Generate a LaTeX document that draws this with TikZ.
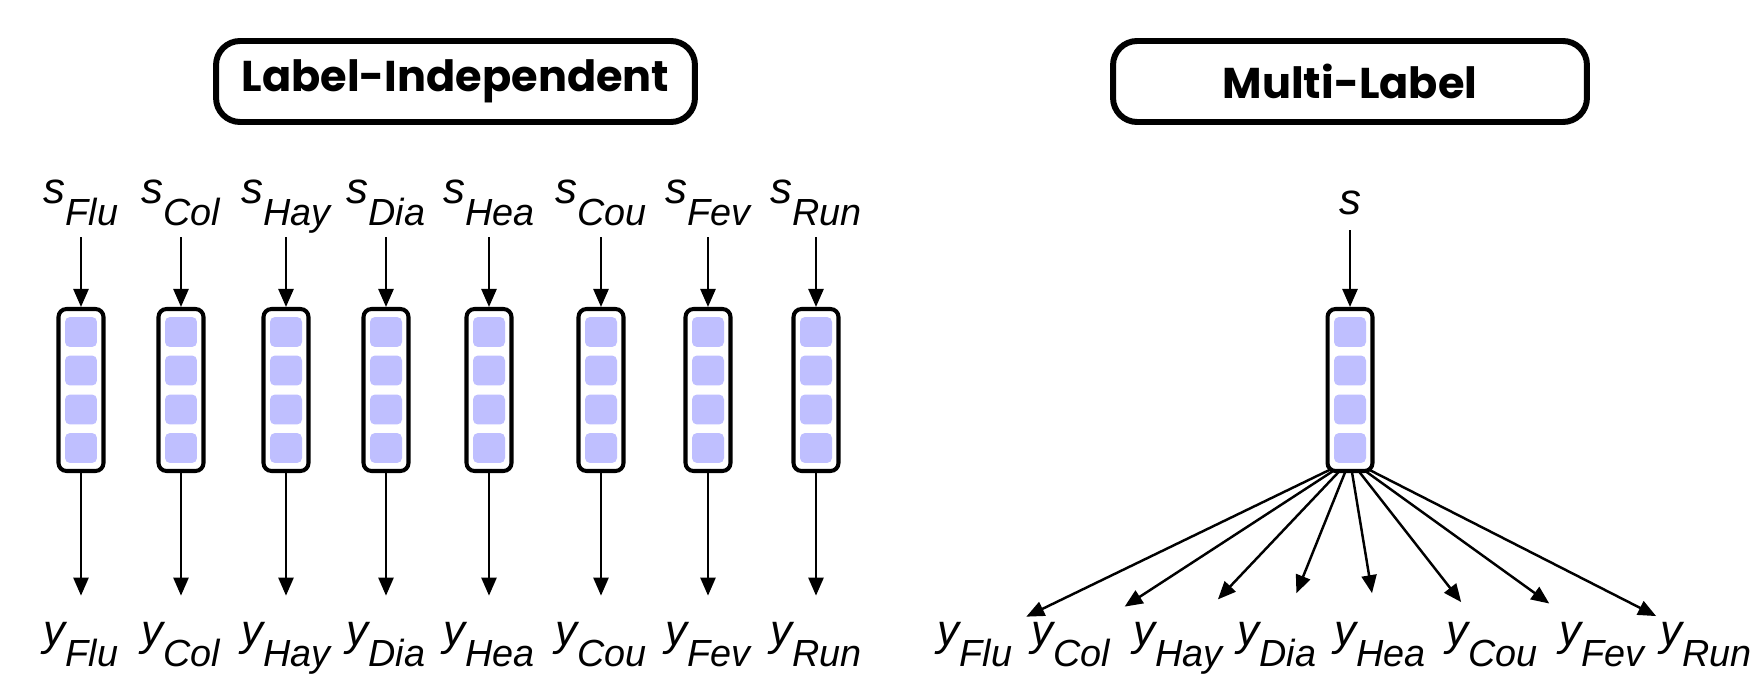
\documentclass[tikz,border=0pt]{standalone}
\usepackage{fontspec}
\setmainfont{Liberation Sans}
\newfontfamily\titlefont{Poppins}
\usetikzlibrary{arrows.meta,backgrounds,positioning}

\definecolor{cellblue}{HTML}{BFBFFF}

% label with a dropped subscript
\newcommand{\sublbl}[2]{\fontsize{25}{30}\selectfont\itshape #1\raisebox{-0.5em}{\fontsize{21.5}{26}\selectfont #2}}

\begin{document}
\begin{tikzpicture}[x=0.02cm,y=-0.02cm,
  >={Triangle[length=0.36cm,width=0.3cm]},
  title/.style={draw,line width=3.4pt,rounded corners=0.48cm,minimum height=1.62cm,
    font=\titlefont\bfseries\fontsize{24.5}{28}\selectfont},
  col/.style={draw,fill=white,line width=2.3pt,rounded corners=0.16cm,
    minimum width=0.9cm,minimum height=3.24cm,inner sep=0},
  cell/.style={fill=cellblue,rounded corners=0.1cm,minimum width=0.64cm,
    minimum height=0.6cm,inner sep=0},
  slbl/.style={inner sep=0,anchor=base,text depth=0.66cm},
  ylbl/.style={inner sep=0,anchor=base,text height=0.46cm,text depth=0.32cm},
  conn/.style={->,line width=1.4pt}]
\useasboundingbox (0,0) rectangle (1758,675);

\node[title,minimum width=9.58cm] (li) at (455.5,81.5) {Label-Independent};
\node[title,minimum width=9.48cm] (ml) at (1350,81.5) {Multi-Label};

% one model per label
\foreach \x/\n in {81/Flu,181/Col,286/Hay,386/Dia,489/Hea,601/Cou,708/Fev,816/Run} {
  \node[col] (b\n) at (\x,390) {};
  \foreach \c [count=\i] in {-58,-19.5,19.5,58}
    \node[cell] (c\n-\i) at (\x,390+\c) {};
  \node[slbl] (s\n) at (\x,204) {\sublbl{s}{\n}};
  \node[ylbl] (y\n) at (\x,645) {\sublbl{y}{\n}};
  \draw[conn] (s\n) -- (b\n);
  \draw[conn,shorten >=0.52cm] (b\n) -- (y\n);
}

% one shared model
\node[col] (bm) at (1350,390) {};
\foreach \c [count=\i] in {-58,-19.5,19.5,58}
  \node[cell] (cm-\i) at (1350,390+\c) {};
\node[slbl,text depth=0.3cm] (sm) at (1350,215) {\fontsize{25}{30}\selectfont\itshape s};
\draw[conn] (sm) -- (bm);
\coordinate (fan) at ([yshift=0.26cm]bm.south);

\foreach \x/\n/\d in {975/Flu/1.14,1071/Col/1.28,1178/Hay/1.16,1277/Dia/1.04,
    1380/Hea/0.98,1492/Cou/1.0,1602/Fev/1.3,1706/Run/1.12} {
  \node[ylbl] (ym\n) at (\x,645) {\sublbl{y}{\n}};
  \begin{scope}[on background layer]
    \draw[conn,shorten >=\d cm] (fan) -- (ym\n.center);
  \end{scope}
}
\end{tikzpicture}
\end{document}
